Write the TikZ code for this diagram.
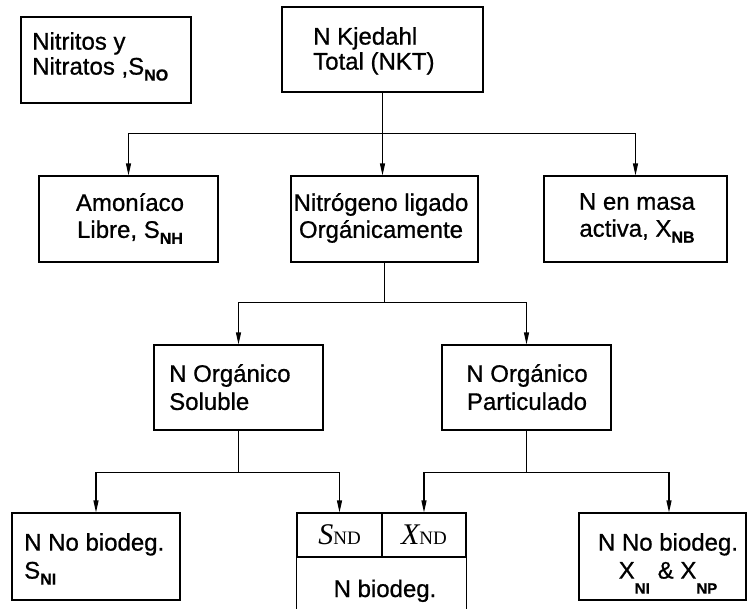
\documentclass[tikz,border=0pt]{standalone}
\usepackage{fontspec}
\setmainfont{Liberation Sans}[FakeBold=0.8]
\newfontfamily\tnr{Liberation Serif}
\newfontfamily\sansreg{Liberation Sans}
\usetikzlibrary{arrows.meta}
\newcommand{\sbs}[1]{\raisebox{-6pt}[0pt][0pt]{\fontsize{16}{16}\selectfont\bfseries #1}}
\newcommand{\sbl}[1]{\raisebox{-15pt}[0pt][0pt]{\fontsize{15}{15}\selectfont\bfseries #1}}
\begin{document}
\begin{tikzpicture}[x=1pt,y=-1pt,
  box/.style={draw, line width=1.1pt, inner sep=0pt},
  txt/.style={inner sep=0pt, font=\fontsize{24}{27}\selectfont},
  txttop/.style={inner sep=0pt, font=\fontsize{24}{25}\selectfont},
  txtlow/.style={inner sep=0pt, font=\fontsize{24}{28}\selectfont},
  cell/.style={box, minimum height=44pt},
  ln/.style={line width=1.1pt},
  arr/.style={line width=1.1pt, -{Triangle[length=12pt,width=5pt]}}]
\useasboundingbox (0,0) rectangle (747,608);

% boxes
\node[box, minimum width=170pt, minimum height=86pt] (nitr) at (106,60) {};
\node[box, minimum width=201pt, minimum height=85pt] (nkt) at (382.5,49.5) {};
\node[box, minimum width=179pt, minimum height=86pt] (amon) at (128.5,219) {};
\node[box, minimum width=187pt, minimum height=86pt] (nitro) at (384.5,219) {};
\node[box, minimum width=183pt, minimum height=86pt] (masa) at (635.5,219) {};
\node[box, minimum width=169pt, minimum height=85pt] (sol) at (238.5,387.5) {};
\node[box, minimum width=169pt, minimum height=85pt] (part) at (526.5,387.5) {};
\node[box, minimum width=168pt, minimum height=87pt] (nnbl) at (96,556.5) {};
\node[box, minimum width=167pt, minimum height=87pt] (nnbr) at (662.5,556.5) {};
\node[cell, minimum width=85pt] (sND) at (339.5,535)
  {{\tnr\fontsize{30}{30}\selectfont\itshape S}{\tnr\fontsize{19}{19}\selectfont ND}};
\node[cell, minimum width=84pt] (xND) at (424,535)
  {{\tnr\fontsize{30}{30}\selectfont\itshape X}{\tnr\fontsize{19}{19}\selectfont ND}};
\draw[ln] (sND.south west) -- ++(0,60);
\draw[ln] (xND.south east) -- ++(0,60);

% texts
\node[txttop, anchor=north west, align=left] (nitrT) at (32,32) {Nitritos y\\Nitratos ,S\sbs{NO}};
\node[txttop, anchor=north west, align=left] (nktT) at (313,27) {N Kjedahl\\Total (NKT)};
\node[txt, anchor=north, align=center] (amonT) at (130,193) {Amoníaco\\Libre, S\sbs{NH}};
\node[txt, anchor=north, align=center] (nitroT) at (381,193) {Nitrógeno ligado\\Orgánicamente};
\node[txt, anchor=north, align=center] (masaT) at (637,193) {N en masa\\activa, X\sbs{NB}};
\node[txtlow, anchor=north west, align=left] (solT) at (169,364) {N Orgánico\\Soluble};
\node[txtlow, anchor=north, align=center] (partT) at (527,364) {N Orgánico\\Particulado};
\node[txtlow, anchor=north west, align=left] (nnblT) at (24,533) {N No biodeg.\\S\sbs{NI}};
\node[txtlow, anchor=north, align=center] (nnbrT) at (668,533) {N No biodeg.\\X\sbl{NI}\hspace{8pt}\& X\sbl{NP}\hspace{12pt}};
\node[txt, anchor=base] (nbioT) at (385,597) {N biodeg.};

% connectors
\draw[ln] (nkt.south) -- ++(0,41) coordinate (j1);
\draw[arr] (j1) -| (amon.north);
\draw[arr] (j1) -- (j1 |- nitro.north);
\draw[arr] (j1) -| (masa.north);

\draw[ln] (nitro.south) -- ++(0,40) coordinate (j2);
\draw[arr] (j2) -| (sol.north);
\draw[arr] (j2) -| (part.north);

\draw[ln] (sol.south) -- ++(0,42) coordinate (j3);
\draw[arr] (j3) -| (nnbl.north);
\draw[arr] (j3) -| (sND.north);

\draw[ln] (part.south) -- ++(0,42) coordinate (j4);
\draw[arr] (j4) -| (xND.north);
\draw[arr] (j4) -| ([xshift=6.5pt]nnbr.north);
\end{tikzpicture}
\end{document}
